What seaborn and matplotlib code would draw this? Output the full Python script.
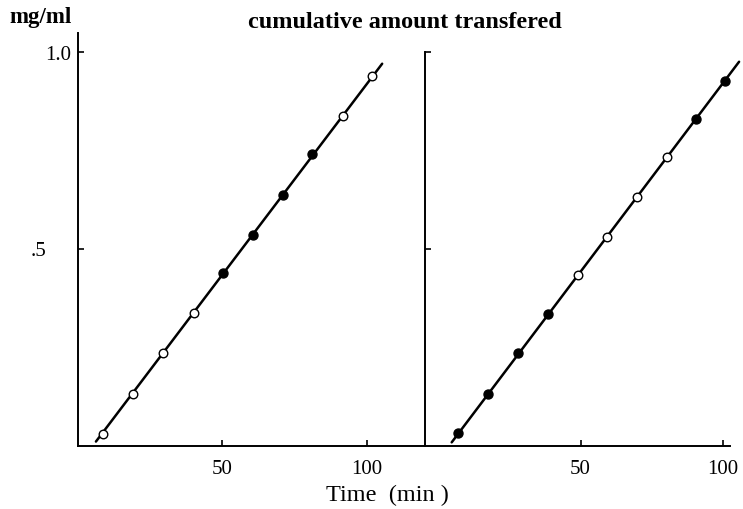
import matplotlib
matplotlib.use("Agg")
import matplotlib.pyplot as plt
import matplotlib.transforms as mtransforms
import seaborn as sns
import pandas as pd

# ---- data ----
left_time = [8.6, 19.2, 29.5, 40.1, 50.2, 60.6, 70.9, 81.0, 91.6, 101.7]
left_amount = [0.029, 0.130, 0.234, 0.336, 0.437, 0.534, 0.637, 0.739, 0.837, 0.939]
left_filled = [0, 0, 0, 0, 1, 1, 1, 1, 0, 0]
left_fit_time = [6.3, 105.2]
left_fit_amount = [0.010, 0.969]

right_time = [6.7, 17.5, 28.0, 38.6, 49.2, 59.2, 69.7, 80.5, 90.6, 100.8]
right_amount = [0.032, 0.130, 0.236, 0.335, 0.434, 0.530, 0.631, 0.731, 0.829, 0.925]
right_filled = [1, 1, 1, 1, 0, 0, 0, 0, 1, 1]
right_fit_time = [4.6, 105.8]
right_fit_amount = [0.008, 0.974]

x_ticks = [50, 100]
x_ticklabels = ["50", "100"]
y_ticks = [0.5, 1.0]
y_ticklabels = [".5", "1.0"]

title = "cumulative amount transfered"
y_unit = "mg/ml"
x_label = "Time  (min )"

sns.set_style("ticks")
plt.rcParams["font.family"] = ["Liberation Serif", "DejaVu Serif"]
plt.rcParams["text.color"] = "black"
plt.rcParams["xtick.color"] = "black"
plt.rcParams["ytick.color"] = "black"

W, H = 743, 510
fig = plt.figure(figsize=(W / 100, H / 100), dpi=100)

y0_px = 446.5
px_per_unit = 394.0

def px_axes(x0, x1, ytop):
    return fig.add_axes([x0 / W, (H - y0_px) / H, (x1 - x0) / W, (y0_px - ytop) / H])

axL = px_axes(77.7, 425, 34)
axR = px_axes(425, 730, 52.5)
axL.set_ylim(0, (y0_px - 34) / px_per_unit)
axR.set_ylim(0, (y0_px - 52.5) / px_per_unit)
axL.set_xlim(0, 120)
axR.set_xlim(-4.8, 102.6)

def draw(ax, t, a, filled, ft, fa):
    df = pd.DataFrame({"t": t, "a": a, "f": filled})
    fit = pd.DataFrame({"t": ft, "a": fa})
    sns.lineplot(data=fit, x="t", y="a", ax=ax, color="black", lw=1.8, clip_on=False, zorder=2)
    sns.scatterplot(data=df[df.f == 1], x="t", y="a", ax=ax, color="black", s=42,
                    edgecolor="black", linewidth=1.0, zorder=3, clip_on=False)
    sns.scatterplot(data=df[df.f == 0], x="t", y="a", ax=ax, color="white", s=38,
                    edgecolor="black", linewidth=1.0, zorder=3, clip_on=False)
    for s in ["top", "right"]:
        ax.spines[s].set_visible(False)
    for s in ["left", "bottom"]:
        ax.spines[s].set_linewidth(1.4)
        ax.spines[s].set_color("black")
    ax.set_xticks(x_ticks)
    ax.set_yticks(y_ticks)
    ax.tick_params(direction="in", length=4, width=1.2, labelsize=15,
                   colors="black", labelcolor="black")
    ax.set_xlabel("")
    ax.set_ylabel("")

draw(axL, left_time, left_amount, left_filled, left_fit_time, left_fit_amount)
draw(axR, right_time, right_amount, right_filled, right_fit_time, right_fit_amount)
axL.set_xticklabels(x_ticklabels)
axR.set_xticklabels(x_ticklabels)
axL.set_yticklabels(y_ticklabels)
axR.set_yticklabels([])
axL.tick_params(axis="x", pad=10)
axR.tick_params(axis="x", pad=10)
axL.tick_params(axis="y", pad=5)

# the ".5" label sits further left in the reference
lab = axL.get_yticklabels()[0]
lab.set_transform(lab.get_transform() +
                  mtransforms.ScaledTranslation(-0.24, 0, fig.dpi_scale_trans))

fig.text(405 / W, 1 - 22 / H, title, ha="center", va="center", fontsize=17.5,
         fontweight="bold", color="black")
fig.text(9 / W, 1 - 18 / H, y_unit, ha="left", va="center", fontsize=16.5,
         fontweight="bold", color="black")
fig.text(387 / W, 1 - 495 / H, x_label, ha="center", va="center", fontsize=17.5,
         color="black")

fig.savefig("out.png", dpi=100)
